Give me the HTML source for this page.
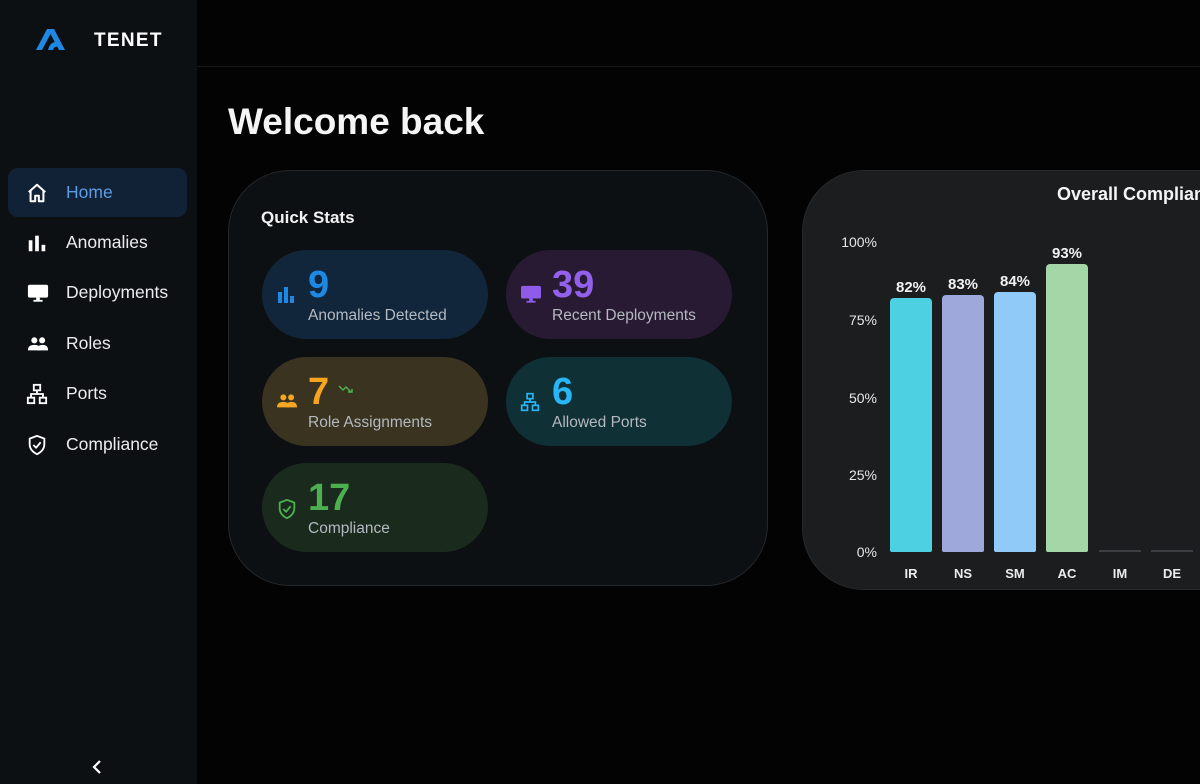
<!DOCTYPE html>
<html><head><meta charset="utf-8">
<style>
*{margin:0;padding:0;box-sizing:border-box}
body{width:1200px;height:784px;overflow:hidden;background:#030304;font-family:"Liberation Sans",Arial,sans-serif;color:#f0f0f0;position:relative}
.abs{position:absolute}
.sidebar{left:0;top:0;width:197px;height:784px;background:#0d1013}
.hline{left:197px;top:66px;width:1003px;height:1px;background:#17181b}
.nav{left:8px;width:179px;height:49px;border-radius:10px}
.nav .t{position:absolute;left:58px;top:0;line-height:49px;font-size:17.5px;color:#ececec}
.nav svg{position:absolute;left:18px;top:14px}
.card1{left:228px;top:170px;width:540px;height:416px;border-radius:62px;background:#0d1012;border:1px solid #24272a}
.card2{left:802px;top:170px;width:460px;height:420px;border-radius:62px;background:#1b1d1f;border:1px solid #26292b}
.pill{width:226px;height:89px;border-radius:45px}
.pill .n{position:absolute;left:46px;top:16px;font-size:38px;font-weight:bold;line-height:38px}
.pill .l{position:absolute;left:46px;top:57px;font-size:15.5px;line-height:18px;color:#b4b9bf}
.pill svg{position:absolute;left:14px;top:34px}
.yl{width:60px;text-align:right;font-size:14px;color:#e6e6e6;line-height:16px}
.bar{width:42px;border-radius:4px 4px 2px 2px}
.vl{width:52px;text-align:center;font-size:15px;font-weight:bold;line-height:18px;color:#f2f2f2}
.xl{width:52px;text-align:center;font-size:13px;font-weight:bold;line-height:16px;color:#ececec}
</style></head><body>
<div class="abs sidebar"></div>
<div class="abs hline"></div>

<!-- logo -->
<svg class="abs" style="left:35px;top:27px" width="34" height="24" viewBox="0 0 34 24">
<path d="M1 23 L12 2 L19 2 L30 23 L24 23 L15.5 7 L7 23 Z" fill="#1e88e5"/>
<path d="M13 23 Q15 15 21 15 L23.5 19.5 Q19 19 18 23 Z" fill="#1e88e5"/>
</svg>
<div class="abs" style="left:94px;top:30px;font-size:19px;font-weight:bold;letter-spacing:1.3px;line-height:22px;color:#fff">TENET</div>

<!-- nav -->
<div class="abs nav" style="top:168px;background:#112237">
<svg width="22" height="22" viewBox="0 0 24 24"><path d="M3 11 L12 3 L21 11 M5 9.5 V21 H10 V15 H14 V21 H19 V9.5" fill="none" stroke="#fff" stroke-width="2.2" stroke-linejoin="round"/></svg>
<div class="t" style="color:#5c9ce6">Home</div></div>
<div class="abs nav" style="top:218px">
<svg width="22" height="22" viewBox="0 0 24 24"><rect x="3" y="9" width="4" height="12" fill="#fff"/><rect x="10" y="4" width="4" height="17" fill="#fff"/><rect x="17" y="14" width="4" height="7" fill="#fff"/></svg>
<div class="t">Anomalies</div></div>
<div class="abs nav" style="top:268px">
<svg width="24" height="22" viewBox="0 0 24 24"><rect x="1" y="3" width="22" height="14" rx="2" fill="#fff"/><rect x="10" y="17" width="4" height="3" fill="#fff"/><rect x="7" y="19.5" width="10" height="2" fill="#fff"/></svg>
<div class="t">Deployments</div></div>
<div class="abs nav" style="top:319px">
<svg width="24" height="22" viewBox="0 0 24 24"><circle cx="8" cy="8" r="3.3" fill="#fff"/><circle cx="16.5" cy="8" r="3.3" fill="#fff"/><path d="M1 19 Q1 13 8 13 Q15 13 15 19 Z" fill="#fff"/><path d="M11 19 Q11 13 17 13 Q23 13 23 19 Z" fill="#fff"/></svg>
<div class="t">Roles</div></div>
<div class="abs nav" style="top:369px">
<svg width="22" height="22" viewBox="0 0 24 24" fill="none" stroke="#fff" stroke-width="2"><rect x="8.5" y="2" width="7" height="6"/><rect x="2" y="16" width="7" height="6"/><rect x="15" y="16" width="7" height="6"/><path d="M12 8 V12 M5.5 16 V12 H18.5 V16"/></svg>
<div class="t">Ports</div></div>
<div class="abs nav" style="top:420px">
<svg width="22" height="22" viewBox="0 0 24 24" fill="none" stroke="#fff" stroke-width="2" stroke-linejoin="round"><path d="M12 2 L20 5 V11 Q20 18 12 22 Q4 18 4 11 V5 Z"/><path d="M8 12 L11 15 L16 9"/></svg>
<div class="t">Compliance</div></div>

<svg class="abs" style="left:90px;top:759px" width="14" height="16" viewBox="0 0 14 16"><path d="M10 2 L4 8 L10 14" fill="none" stroke="#fff" stroke-width="2.2"/></svg>

<div class="abs" style="left:228px;top:101px;font-size:37px;font-weight:bold;line-height:42px;color:#f5f5f5">Welcome back</div>

<!-- quick stats -->
<div class="abs card1"></div>
<div class="abs" style="left:261px;top:208px;font-size:17px;font-weight:bold;line-height:20px;color:#f2f2f2">Quick Stats</div>

<div class="abs pill" style="left:262px;top:250px;background:#11263a">
<svg width="20" height="20" viewBox="0 0 20 20"><rect x="2" y="8" width="4" height="11" fill="#1e88e5"/><rect x="8" y="3" width="4" height="16" fill="#1e88e5"/><rect x="14" y="12" width="4" height="7" fill="#1e88e5"/></svg>
<div class="n" style="color:#1e88e5">9</div><div class="l">Anomalies Detected</div></div>

<div class="abs pill" style="left:506px;top:250px;background:#291a33">
<svg width="22" height="20" viewBox="0 0 24 22"><rect x="1" y="2" width="22" height="14" rx="2" fill="#8e5ce8"/><rect x="10" y="16" width="4" height="3" fill="#8e5ce8"/><rect x="7" y="18.5" width="10" height="2" fill="#8e5ce8"/></svg>
<div class="n" style="color:#9260ea">39</div><div class="l">Recent Deployments</div></div>

<div class="abs pill" style="left:262px;top:357px;background:#393320">
<svg width="22" height="20" viewBox="0 0 24 22"><circle cx="8" cy="7" r="3.3" fill="#f5a623"/><circle cx="16.5" cy="7" r="3.3" fill="#f5a623"/><path d="M1 18 Q1 12 8 12 Q15 12 15 18 Z" fill="#f5a623"/><path d="M11 18 Q11 12 17 12 Q23 12 23 18 Z" fill="#f5a623"/></svg>
<div class="n" style="color:#f7a520">7</div><div class="l">Role Assignments</div>
<svg style="left:76px;top:27px" width="16" height="10" viewBox="0 0 16 10"><path d="M1 2 L5 6 L8 3 L13 8 M10 8 H14 V5" fill="none" stroke="#4caf50" stroke-width="1.5"/></svg>
</div>

<div class="abs pill" style="left:506px;top:357px;background:#0f3035">
<svg width="20" height="22" viewBox="0 0 24 24" fill="none" stroke="#29b6f6" stroke-width="2"><rect x="8.5" y="2" width="7" height="6"/><rect x="2" y="16" width="7" height="6"/><rect x="15" y="16" width="7" height="6"/><path d="M12 8 V12 M5.5 16 V12 H18.5 V16"/></svg>
<div class="n" style="color:#29b6f6">6</div><div class="l">Allowed Ports</div></div>

<div class="abs pill" style="left:262px;top:463px;background:#1a2a1d">
<svg width="22" height="24" viewBox="0 0 24 24" fill="none" stroke="#4caf50" stroke-width="2" stroke-linejoin="round"><path d="M12 2 L20 5 V11 Q20 18 12 22 Q4 18 4 11 V5 Z"/><path d="M8 12 L11 15 L16 9"/></svg>
<div class="n" style="color:#4cb050">17</div><div class="l">Compliance</div></div>

<!-- compliance chart -->
<div class="abs card2"></div>
<div class="abs" style="left:1057px;top:184px;font-size:18px;font-weight:bold;line-height:21px;color:#f5f5f5;white-space:nowrap">Overall Compliance</div>

<div class="abs yl" style="left:817px;top:234px">100%</div>
<div class="abs yl" style="left:817px;top:312px">75%</div>
<div class="abs yl" style="left:817px;top:390px">50%</div>
<div class="abs yl" style="left:817px;top:467px">25%</div>
<div class="abs yl" style="left:817px;top:544px">0%</div>

<div class="abs bar" style="left:890px;top:298px;height:254px;background:#4dd0e1"></div>
<div class="abs bar" style="left:942px;top:295px;height:257px;background:#9fa8da"></div>
<div class="abs bar" style="left:994px;top:292px;height:260px;background:#90caf9"></div>
<div class="abs bar" style="left:1046px;top:264px;height:288px;background:#a5d6a7"></div>
<div class="abs" style="left:1099px;top:550px;width:42px;height:2px;background:#3c3f42"></div>
<div class="abs" style="left:1151px;top:550px;width:42px;height:2px;background:#3c3f42"></div>

<div class="abs vl" style="left:885px;top:279px">82%</div>
<div class="abs vl" style="left:937px;top:276px">83%</div>
<div class="abs vl" style="left:989px;top:273px">84%</div>
<div class="abs vl" style="left:1041px;top:245px">93%</div>

<div class="abs xl" style="left:885px;top:566px">IR</div>
<div class="abs xl" style="left:937px;top:566px">NS</div>
<div class="abs xl" style="left:989px;top:566px">SM</div>
<div class="abs xl" style="left:1041px;top:566px">AC</div>
<div class="abs xl" style="left:1094px;top:566px">IM</div>
<div class="abs xl" style="left:1146px;top:566px">DE</div>
</body></html>
